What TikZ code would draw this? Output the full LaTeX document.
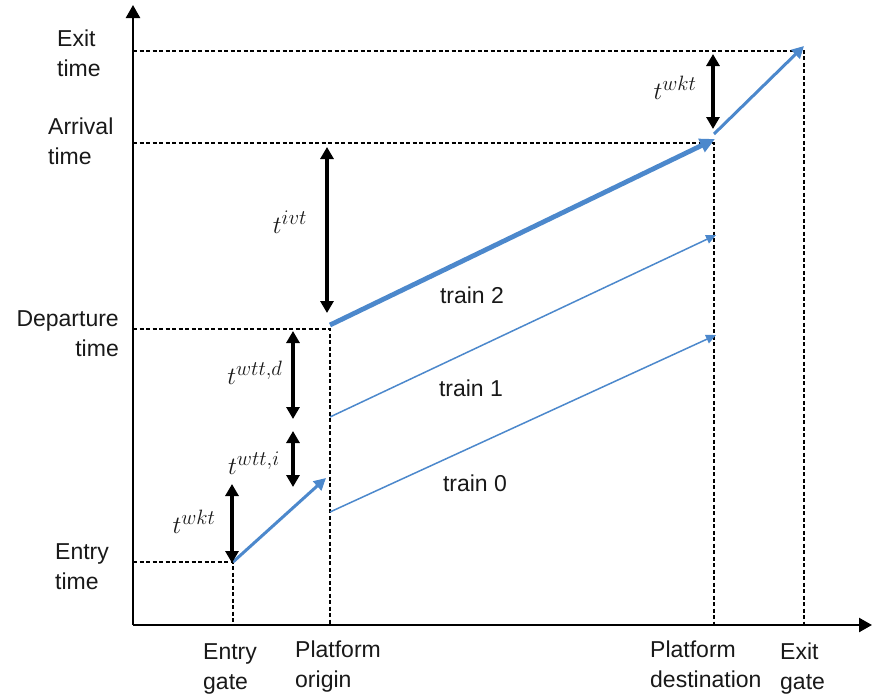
\documentclass[tikz,border=0pt]{standalone}
\usepackage{fontspec}
\setmainfont{Liberation Sans}
\usetikzlibrary{arrows.meta}
\definecolor{trainblue}{RGB}{76,136,204}
\definecolor{inkgray}{RGB}{25,25,25}
\begin{document}
\begin{tikzpicture}[x=1pt,y=-1pt,
  axis/.style={line width=2.4pt,-{Triangle[length=13pt,width=14pt]}},
  guide/.style={dash pattern=on 4pt off 2.5pt,line width=1.6pt},
  span/.style={line width=3.4pt,{Triangle[length=12pt,width=13pt]}-{Triangle[length=12pt,width=13pt]}},
  walk/.style={trainblue,line width=3pt,-{Triangle[length=12pt,width=12pt]}},
  ride/.style={trainblue,line width=1.5pt,-{Triangle[length=10pt,width=9pt]}},
  ridemain/.style={trainblue,line width=4.8pt,-{Triangle[length=15pt,width=14pt]}},
  lbl/.style={font=\fontsize{23}{30}\selectfont,inner sep=0pt,text=inkgray},
  dur/.style={font=\fontsize{28}{30}\selectfont,inner sep=0pt,text=inkgray}]
\fill[white] (0,0) rectangle (873,694);
\useasboundingbox (0,0) rectangle (873,694);

% axes
\coordinate (O) at (133,625);
\coordinate (ytop) at (133,5);
\coordinate (xend) at (872,625);

% time levels on the vertical axis
\coordinate (exitT) at (133,51);
\coordinate (arrT) at (133,143);
\coordinate (depT) at (133,329);
\coordinate (entT) at (133,562);

% locations
\coordinate (EG) at (233,562);
\coordinate (PO) at (330,329);
\coordinate (PD) at (714,143);
\coordinate (XG) at (804,51);

% guide lines
\draw[guide] (entT) -- (EG) -- (EG |- O);
\draw[guide] (depT) -- (PO) -- (PO |- O);
\draw[guide] (arrT) -- (PD) -- (PD |- O);
\draw[guide] (exitT) -- (XG) -- (XG |- O);

\draw[axis] (O) -- (ytop);
\draw[axis] (O) -- (xend);

% trajectories
\coordinate (POreach) at (326,478);
\coordinate (t2s) at (330,325);
\coordinate (t2e) at (715,139);
\coordinate (t1s) at (330,417);
\coordinate (t1e) at (716,235);
\coordinate (t0s) at (330,512);
\coordinate (t0e) at (716,335);
\coordinate (PDs) at (714,134);
\coordinate (XGe) at (804,46);

\draw[walk] (EG) -- (POreach);
\draw[ridemain] (t2s) -- (t2e);
\draw[ride] (t1s) -- (t1e);
\draw[ride] (t0s) -- (t0e);
\draw[walk] (PDs) -- (XGe);

% duration spans
\coordinate (wkA) at (232,484);
\coordinate (wkB) at (232,563);
\coordinate (wiA) at (293,431);
\coordinate (wiB) at (293,487);
\coordinate (wdA) at (293,331);
\coordinate (wdB) at (293,419);
\coordinate (ivA) at (327,147);
\coordinate (ivB) at (327,313);
\coordinate (wxA) at (713,54);
\coordinate (wxB) at (713,129);

\draw[span] (wkA) -- (wkB);
\draw[span] (wiA) -- (wiB);
\draw[span] (wdA) -- (wdB);
\draw[span] (ivA) -- (ivB);
\draw[span] (wxA) -- (wxB);

\node[dur] (lwk) at (194,522) {$t^{wkt}$};
\node[dur] (lwi) at (254,463) {$t^{wtt,i}$};
\node[dur] (lwd) at (255,373) {$t^{wtt,d}$};
\node[dur] (liv) at (290,222) {$t^{ivt}$};
\node[dur] (lwx) at (675,88) {$t^{wkt}$};

% train labels
\node[lbl] (tr2) at (472,295) {train 2};
\node[lbl] (tr1) at (471,388) {train 1};
\node[lbl] (tr0) at (475,483) {train 0};

% vertical axis labels
\node[lbl,align=left,anchor=west] (yl1) at (57,53) {Exit\\time};
\node[lbl,align=left,anchor=west] (yl2) at (48,141) {Arrival\\time};
\node[lbl,align=right,anchor=east] (yl3) at (119,334) {Departure\\time};
\node[lbl,align=left,anchor=west] (yl4) at (55,567) {Entry\\time};

% horizontal axis labels
\node[lbl,align=left,anchor=north west] (xl1) at (203,643) {Entry\\gate};
\node[lbl,align=left,anchor=north west] (xl2) at (295,641) {Platform\\origin};
\node[lbl,align=left,anchor=north west] (xl3) at (650,641) {Platform\\destination};
\node[lbl,align=left,anchor=north west] (xl4) at (780,643) {Exit\\gate};
\end{tikzpicture}
\end{document}
